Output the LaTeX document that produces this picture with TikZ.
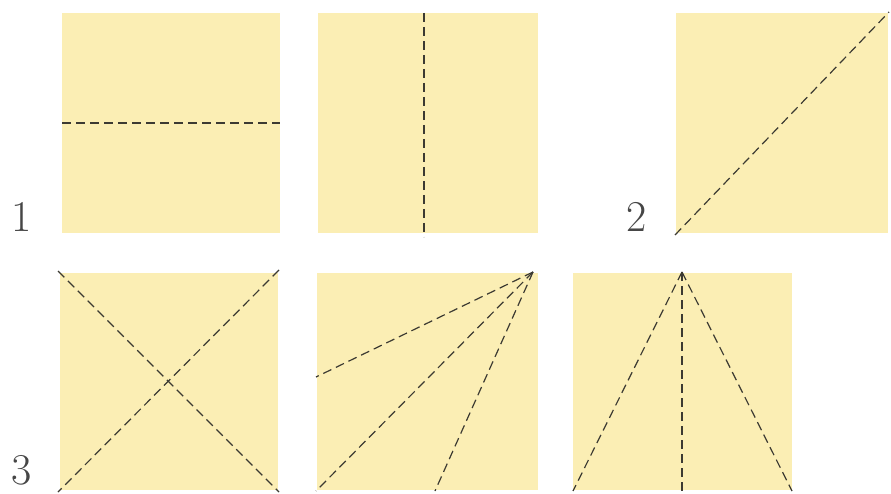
\documentclass[tikz,border=0pt]{standalone}
\usepackage{tikz}
\definecolor{paper}{RGB}{251,238,180}
\definecolor{fold}{RGB}{60,58,50}
\definecolor{numcol}{RGB}{70,70,70}
\begin{document}
\begin{tikzpicture}[x=1pt,y=-1pt,
  sheet/.style={fill=paper,draw=none},
  foldline/.style={draw=fold,line width=1.2pt,dash pattern=on 9pt off 5pt},
  numlabel/.style={text=numcol,font=\fontsize{44}{44}\selectfont,inner sep=0pt,anchor=base}]
\useasboundingbox[fill=white] (0,0) rectangle (891,494);
% top row
\fill[sheet] (62,13) rectangle (280,233);
\fill[sheet] (318,13) rectangle (538,233);
\fill[sheet] (676,13) rectangle (888,233);
% bottom row
\fill[sheet] (60,273) rectangle (278,490);
\fill[sheet] (317,273) rectangle (538,490);
\fill[sheet] (573,273) rectangle (792,490);
% corner coordinates
\coordinate (a1) at (62,123); \coordinate (a2) at (280,123);
\coordinate (b1) at (424,13); \coordinate (b2) at (424,237);
\coordinate (c1) at (675,235); \coordinate (c2) at (889,12);
\coordinate (d1) at (58,271); \coordinate (d2) at (279,492);
\coordinate (d3) at (279,270); \coordinate (d4) at (58,492);
\coordinate (e0) at (533,272); \coordinate (e1) at (316,377);
\coordinate (e2) at (316,491); \coordinate (e3) at (435,491);
\coordinate (f0) at (682,272); \coordinate (f1) at (573,491);
\coordinate (f2) at (682,491); \coordinate (f3) at (792,491);
% folds
\draw[foldline] (a1) -- (a2);
\draw[foldline] (b1) -- (b2);
\draw[foldline] (c1) -- (c2);
\draw[foldline] (d1) -- (d2);
\draw[foldline] (d3) -- (d4);
\draw[foldline] (e0) -- (e1);
\draw[foldline] (e0) -- (e2);
\draw[foldline] (e0) -- (e3);
\draw[foldline] (f0) -- (f1);
\draw[foldline] (f0) -- (f2);
\draw[foldline] (f0) -- (f3);
% labels
\node[numlabel] (n1) at (22,232) {1};
\node[numlabel] (n2) at (637,232) {2};
\node[numlabel] (n3) at (22,484) {3};
\end{tikzpicture}
\end{document}
